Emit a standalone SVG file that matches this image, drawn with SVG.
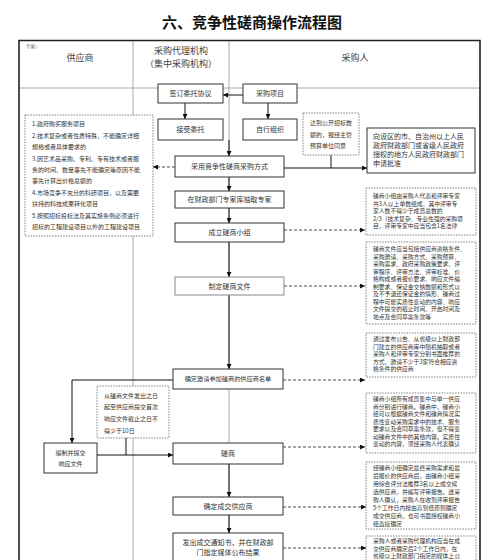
<svg xmlns="http://www.w3.org/2000/svg" width="500" height="560" viewBox="0 0 500 560">
<defs>
<marker id="ah" viewBox="0 0 10 10" refX="10" refY="5" markerWidth="5" markerHeight="5" orient="auto" markerUnits="userSpaceOnUse"><path d="M0,0 L10,5 L0,10 z" fill="#111"/></marker>
</defs>
<style>
text{font-family:"Noto Sans CJK SC","Liberation Sans",sans-serif;fill:#333}
.title{font-size:15px;font-weight:bold;fill:#111}
.hd{font-size:9px;fill:#444}
.bx{fill:#fff;stroke:#333;stroke-width:1}
.bxg{fill:#fff;stroke:#888;stroke-width:1}
.dot{fill:#fff;stroke:#666;stroke-width:0.8;stroke-dasharray:1.5,1.2}
.c{font-size:7px;text-anchor:middle}
.s{font-size:5.8px}
.m{font-size:6px}
.ln{fill:none;stroke:#111;stroke-width:1}
.dl{fill:none;stroke:#222;stroke-width:0.8;stroke-dasharray:3,2}
.grid{stroke:#aaa;stroke-width:1;fill:none}
</style>
<rect width="500" height="560" fill="#fff"/>
<text class="title" x="252" y="28" text-anchor="middle">六、竞争性磋商操作流程图</text>
<g id="table">
<line class="grid" x1="133" y1="40" x2="133" y2="560"/>
<line class="grid" x1="229" y1="40" x2="229" y2="560"/>
<line class="grid" x1="19" y1="88" x2="480" y2="88"/>
<path d="M19,560 V40.5 H480 V560" fill="none" stroke="#222" stroke-width="1.6"/>
<text x="26" y="48" style="font-size:4.5px;fill:#666">专家）</text>
<text class="hd" x="80" y="61" text-anchor="middle">供应商</text>
<text class="hd" x="181" y="54" text-anchor="middle">采购代理机构</text>
<text class="hd" x="181" y="67" text-anchor="middle">（集中采购机构）</text>
<text class="hd" x="355" y="61" text-anchor="middle">采购人</text>
</g>
<g id="connectors">
<path class="ln" d="M243,95 H223" marker-end="url(#ah)"/>
<path class="ln" d="M185,103 V119" marker-end="url(#ah)"/>
<path class="ln" d="M268,103 V119" marker-end="url(#ah)"/>
<path class="ln" d="M229,140 V156" marker-end="url(#ah)"/>
<path class="dl" d="M175,167 H153" marker-end="url(#ah)"/>
<path class="ln" d="M284,168 H367" marker-end="url(#ah)"/>
<path class="ln" d="M331,155 V168"/>
<path class="ln" d="M229,177 V191" marker-end="url(#ah)"/>
<path class="ln" d="M229,208 V223" marker-end="url(#ah)"/>
<path class="dl" d="M284,230 H365" marker-end="url(#ah)"/>
<path class="ln" d="M229,242 V277" marker-end="url(#ah)"/>
<path class="dl" d="M284,286 H365" marker-end="url(#ah)"/>
<path class="ln" d="M229,295 V369" marker-end="url(#ah)"/>
<path class="dl" d="M283,380 H365" marker-end="url(#ah)"/>
<path class="ln" d="M173,380 H72 V443" marker-end="url(#ah)"/>
<path class="ln" d="M126,438 V455"/>
<path class="ln" d="M97,455 H173" marker-end="url(#ah)"/>
<path class="ln" d="M229,464 V497" marker-end="url(#ah)"/>
<path class="dl" d="M283,447 H365" marker-end="url(#ah)"/>
<path class="ln" d="M229,515 V533" marker-end="url(#ah)"/>
<path class="dl" d="M283,507 H366" marker-end="url(#ah)"/>
<path class="dl" d="M283,548 H366" marker-end="url(#ah)"/>
</g>
<g id="n_sign"><rect class="bx" x="158" y="84" width="65" height="19"/><text class="c" x="190.5" y="96">签订委托协议</text></g>
<g id="n_project"><rect class="bx" x="243" y="84" width="54" height="19"/><text class="c" x="270" y="96">采购项目</text></g>
<g id="n_accept"><rect class="bx" x="158" y="119" width="65" height="21"/><text class="c" x="190.5" y="132">接受委托</text></g>
<g id="n_self"><rect class="bx" x="243" y="119" width="54" height="21"/><text class="c" x="270" y="132">自行组织</text></g>
<g id="n_scope">
<rect class="dot" x="25" y="115" width="128" height="121"/>
<text class="m" x="32" y="126">1.政府购买服务项目</text>
<text class="m" x="32" y="138">2.技术复杂或者性质特殊，不能确定详细</text>
<text class="m" x="32" y="149">规格或者具体要求的</text>
<text class="m" x="32" y="161">3.因艺术品采购、专利、专有技术或者服</text>
<text class="m" x="32" y="172">务的时间、数量事先不能确定等原因不能</text>
<text class="m" x="32" y="183">事先计算出价格总额的</text>
<text class="m" x="32" y="195">4.市场竞争不充分的科研项目，以及需要</text>
<text class="m" x="32" y="206">扶持的科技成果转化项目</text>
<text class="m" x="32" y="218">5.按照招标投标法及其实施条例必须进行</text>
<text class="m" x="32" y="229">招标的工程建设项目以外的工程建设项目</text>
</g>
<g id="n_method"><rect class="bx" x="175" y="156" width="109" height="21"/><text class="c" x="229.5" y="169">采用竞争性磋商采购方式</text></g>
<g id="n_threshold">
<rect class="dot" x="303" y="113" width="56" height="42"/>
<text class="m" x="310" y="125">达到公开招标数</text>
<text class="m" x="310" y="137">额的，报经主管</text>
<text class="m" x="310" y="148">预算单位同意</text>
</g>
<g id="n_approve">
<rect class="bx" x="367" y="128" width="108" height="45"/>
<text x="373" y="139" style="font-size:7px">向设区的市、自治州以上人民</text>
<text x="373" y="148" style="font-size:7px">政府财政部门或省级人民政府</text>
<text x="373" y="157" style="font-size:7px">授权的地方人民政府财政部门</text>
<text x="373" y="166" style="font-size:7px">申请批准</text>
</g>
<g id="n_expert"><rect class="bx" x="175" y="191" width="109" height="17"/><text class="c" x="229.5" y="202">在财政部门专家库抽取专家</text></g>
<g id="n_group"><rect class="bx" x="175" y="223" width="109" height="19"/><text class="c" x="229.5" y="235">成立磋商小组</text></g>
<g id="n_group_note">
<rect class="dot" x="366" y="188" width="110" height="47"/>
<text class="s" x="373" y="198">磋商小组由采购人代表和评审专家</text>
<text class="s" x="373" y="205.5">共3人以上单数组成，其中评审专</text>
<text class="s" x="373" y="213">家人数不得少于成员总数的</text>
<text class="s" x="373" y="220.5">2/3（技术复杂、专业性强的采购项</text>
<text class="s" x="373" y="228">目，评审专家中应当包含1名法律</text>
</g>
<g id="n_doc"><rect class="bxg" x="175" y="277" width="109" height="18"/><text class="c" x="229.5" y="288.5">制定磋商文件</text></g>
<g id="n_doc_note">
<rect class="dot" x="366" y="242" width="110" height="82"/>
<text class="s" x="373" y="251">磋商文件应当包括供应商资格条件、</text>
<text class="s" x="373" y="258.5">采购邀请、采购方式、采购预算、</text>
<text class="s" x="373" y="266">采购需求、政府采购政策要求、评</text>
<text class="s" x="373" y="273.5">审程序、评审方法、评审标准、价</text>
<text class="s" x="373" y="281">格构成或者报价要求、响应文件编</text>
<text class="s" x="373" y="288.5">制要求、保证金交纳数额和形式以</text>
<text class="s" x="373" y="296">及不予退还保证金的情形、磋商过</text>
<text class="s" x="373" y="303.5">程中可能实质性变动的内容、响应</text>
<text class="s" x="373" y="311">文件提交的截止时间、开启时间及</text>
<text class="s" x="373" y="318.5">地点及合同草案条款等</text>
</g>
<g id="n_invite"><rect class="bx" x="173" y="369" width="110" height="20"/><text class="c" x="228" y="381" style="font-size:6.2px">确定邀请参加磋商的供应商名单</text></g>
<g id="n_invite_note">
<rect class="dot" x="366" y="333" width="110" height="44"/>
<text class="s" x="373" y="341">通过发布公告、从省级以上财政部</text>
<text class="s" x="373" y="348.5">门建立的供应商库中随机抽取或者</text>
<text class="s" x="373" y="356">采购人和评审专家分别书面推荐的</text>
<text class="s" x="373" y="363.5">方式，邀请不少于3家符合相应资</text>
<text class="s" x="373" y="371">格条件的供应商</text>
</g>
<g id="n_days">
<rect class="dot" x="97" y="386" width="72" height="52"/>
<text class="m" x="104" y="398">从磋商文件发出之日</text>
<text class="m" x="104" y="409">起至供应商提交首次</text>
<text class="m" x="104" y="421">响应文件截止之日不</text>
<text class="m" x="104" y="433">得少于10日</text>
</g>
<g id="n_response">
<rect class="bx" x="44" y="443" width="53" height="30"/>
<text class="m" x="70.5" y="455" text-anchor="middle">编制并提交</text>
<text class="m" x="70.5" y="466" text-anchor="middle">响应文件</text>
</g>
<g id="n_negotiate"><rect class="bx" x="173" y="443" width="110" height="21"/><text class="c" x="228" y="456">磋商</text></g>
<g id="n_negotiate_note">
<rect class="dot" x="366" y="393" width="110" height="60"/>
<text class="s" x="373" y="401">磋商小组所有成员集中与单一供应</text>
<text class="s" x="373" y="408.5">商分别进行磋商。磋商中，磋商小</text>
<text class="s" x="373" y="416">组可以根据磋商文件和磋商情况实</text>
<text class="s" x="373" y="423.5">质性变动采购需求中的技术、服务</text>
<text class="s" x="373" y="431">要求以及合同草案条款，但不得变</text>
<text class="s" x="373" y="438.5">动磋商文件中的其他内容。实质性</text>
<text class="s" x="373" y="446">变动的内容，须经采购人代表确认</text>
</g>
<g id="n_winner"><rect class="bx" x="173" y="497" width="110" height="18"/><text class="c" x="228" y="508.5">确定成交供应商</text></g>
<g id="n_winner_note">
<rect class="dot" x="366" y="462" width="110" height="67"/>
<text class="s" x="373" y="470">经磋商小组确定最终采购需求和最</text>
<text class="s" x="373" y="478">后报价的供应商后，由磋商小组采</text>
<text class="s" x="373" y="486">用综合评分法推荐3名以上成交候</text>
<text class="s" x="373" y="494">选供应商，并编写评审报告。送采</text>
<text class="s" x="373" y="502">购人确认，采购人在收到评审报告</text>
<text class="s" x="373" y="510">5个工作日内按由高到低原则确定</text>
<text class="s" x="373" y="518">成交供应商，也可书面授权磋商小</text>
<text class="s" x="373" y="526">组直接确定</text>
</g>
<g id="n_notice">
<rect class="bx" x="173" y="533" width="110" height="40"/>
<text class="c" x="228" y="545">发出成交通知书，并在财政部</text>
<text class="c" x="228" y="555">门指定媒体公布结果</text>
</g>
<g id="n_notice_note">
<rect class="dot" x="366" y="536" width="110" height="40"/>
<text class="s" x="373" y="543">采购人或者采购代理机构应当在成</text>
<text class="s" x="373" y="550.5">交供应商确定后2个工作日内，在</text>
<text class="s" x="373" y="558">省级以上财政部门指定的媒体上公</text>
</g>
</svg>
